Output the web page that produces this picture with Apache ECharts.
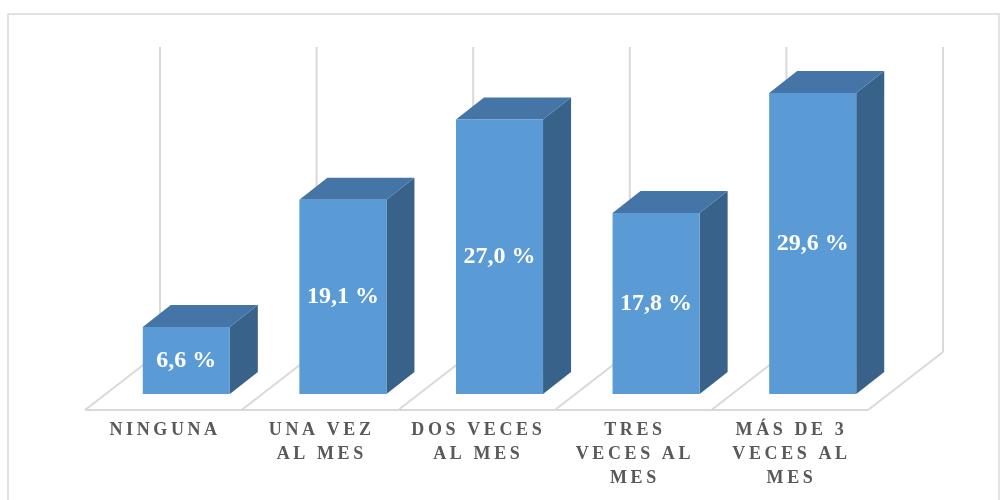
<!DOCTYPE html>
<html>
<head>
<meta charset="utf-8">
<script src="https://cdn.jsdelivr.net/npm/echarts@6/dist/echarts.min.js"></script>
<style>
  html, body { margin: 0; padding: 0; background: #fff; }
  #chart { width: 1008px; height: 500px; }
</style>
</head>
<body>
<div id="chart"></div>
<script>
// datos
var categories = ['NINGUNA', 'UNA VEZ\nAL MES', 'DOS VECES\nAL MES', 'TRES\nVECES AL\nMES', 'MÁS DE 3\nVECES AL\nMES'];
var values = [6.6, 19.1, 27.0, 17.8, 29.6];
var yMax = 30;

// desplazamientos de profundidad (pseudo 3D)
var BAR_DEPTH = [28, -22];
var FLOOR_FRONT = [-21, 16];
var FLOOR_BACK = [54, -42];

var chart = echarts.init(document.getElementById('chart'));

function fmt(v) {
  return v.toFixed(1).replace('.', ',') + ' %';
}

function spaced(str) {
  return str.split('\n').map(function (line) {
    return line.split('').join('\u2009');
  }).join('\n');
}

function renderFrame(params, api) {
  var i = api.value(0);
  var c0 = api.coord([i, 0]);
  var half = api.size([1, 0])[0] / 2;
  var yTop = api.coord([i, yMax])[1];
  var lineStyle = { stroke: '#D9D9D9', lineWidth: 2, fill: null };
  var xs = [c0[0] - half];
  if (i === categories.length - 1) xs.push(c0[0] + half);
  var children = [];
  xs.forEach(function (x) {
    children.push({
      type: 'line',
      shape: { x1: x + FLOOR_BACK[0], y1: c0[1] + FLOOR_BACK[1], x2: x + FLOOR_BACK[0], y2: yTop + FLOOR_BACK[1] },
      style: lineStyle
    });
    children.push({
      type: 'line',
      shape: { x1: x + FLOOR_FRONT[0], y1: c0[1] + FLOOR_FRONT[1], x2: x + FLOOR_BACK[0], y2: c0[1] + FLOOR_BACK[1] },
      style: lineStyle
    });
  });
  children.push({
    type: 'line',
    shape: { x1: c0[0] - half + FLOOR_FRONT[0], y1: c0[1] + FLOOR_FRONT[1], x2: c0[0] + half + FLOOR_FRONT[0], y2: c0[1] + FLOOR_FRONT[1] },
    style: lineStyle
  });
  return { type: 'group', children: children };
}

function renderBar(params, api) {
  var i = api.value(0);
  var v = api.value(1);
  var base = api.coord([i, 0]);
  var top = api.coord([i, v]);
  var w = api.size([1, 0])[0] * 0.556;
  var xl = base[0] - w / 2 + 2;
  var xr = xl + w;
  var yt = top[1];
  var yb = base[1];
  var dx = BAR_DEPTH[0], dy = BAR_DEPTH[1];
  return {
    type: 'group',
    children: [
      {
        type: 'polygon',
        shape: { points: [[xr, yt], [xr + dx, yt + dy], [xr + dx, yb + dy], [xr, yb]] },
        style: { fill: '#386289' }
      },
      {
        type: 'polygon',
        shape: { points: [[xl, yt], [xl + dx, yt + dy], [xr + dx, yt + dy], [xr, yt]] },
        style: { fill: '#4475A6' }
      },
      {
        type: 'rect',
        shape: { x: xl, y: yt, width: w, height: yb - yt },
        style: { fill: '#5B9BD5' }
      },
      {
        type: 'text',
        x: (xl + xr) / 2,
        y: (yt + yb) / 2,
        style: {
          text: fmt(v),
          fill: '#fff',
          font: 'bold 24px "Liberation Serif", "Times New Roman", serif',
          align: 'center',
          verticalAlign: 'middle'
        }
      }
    ]
  };
}

var option = {
  animation: false,
  backgroundColor: '#fff',
  graphic: [{
    type: 'rect',
    shape: { x: 8, y: 14, width: 991, height: 500 },
    style: { fill: null, stroke: '#D9D9D9', lineWidth: 1.5 },
    silent: true
  }],
  grid: [
    { left: 106, right: 119, top: 89, bottom: 106 },
    { left: 85, right: 140, top: 89, bottom: 90 }
  ],
  xAxis: [
    {
      type: 'category',
      gridIndex: 0,
      data: categories,
      show: false
    },
    {
      type: 'category',
      gridIndex: 1,
      data: categories,
      axisLine: { show: false },
      axisTick: { show: false },
      axisLabel: {
        interval: 0,
        margin: 8,
        color: '#595959',
        fontFamily: 'Liberation Serif',
        fontWeight: 'bold',
        fontSize: 18,
        lineHeight: 24,
        formatter: function (val) { return spaced(val); }
      }
    }
  ],
  yAxis: [
    { type: 'value', gridIndex: 0, min: 0, max: yMax, show: false },
    { type: 'value', gridIndex: 1, min: 0, max: yMax, show: false }
  ],
  series: [
    {
      name: 'frame',
      type: 'custom',
      xAxisIndex: 0,
      yAxisIndex: 0,
      clip: false,
      silent: true,
      z: 1,
      renderItem: renderFrame,
      data: categories.map(function (c, i) { return [i, 0]; })
    },
    {
      name: 'bars',
      type: 'custom',
      xAxisIndex: 0,
      yAxisIndex: 0,
      clip: false,
      z: 2,
      renderItem: renderBar,
      data: values.map(function (v, i) { return [i, v]; })
    }
  ]
};
chart.setOption(option);
</script>
</body>
</html>
